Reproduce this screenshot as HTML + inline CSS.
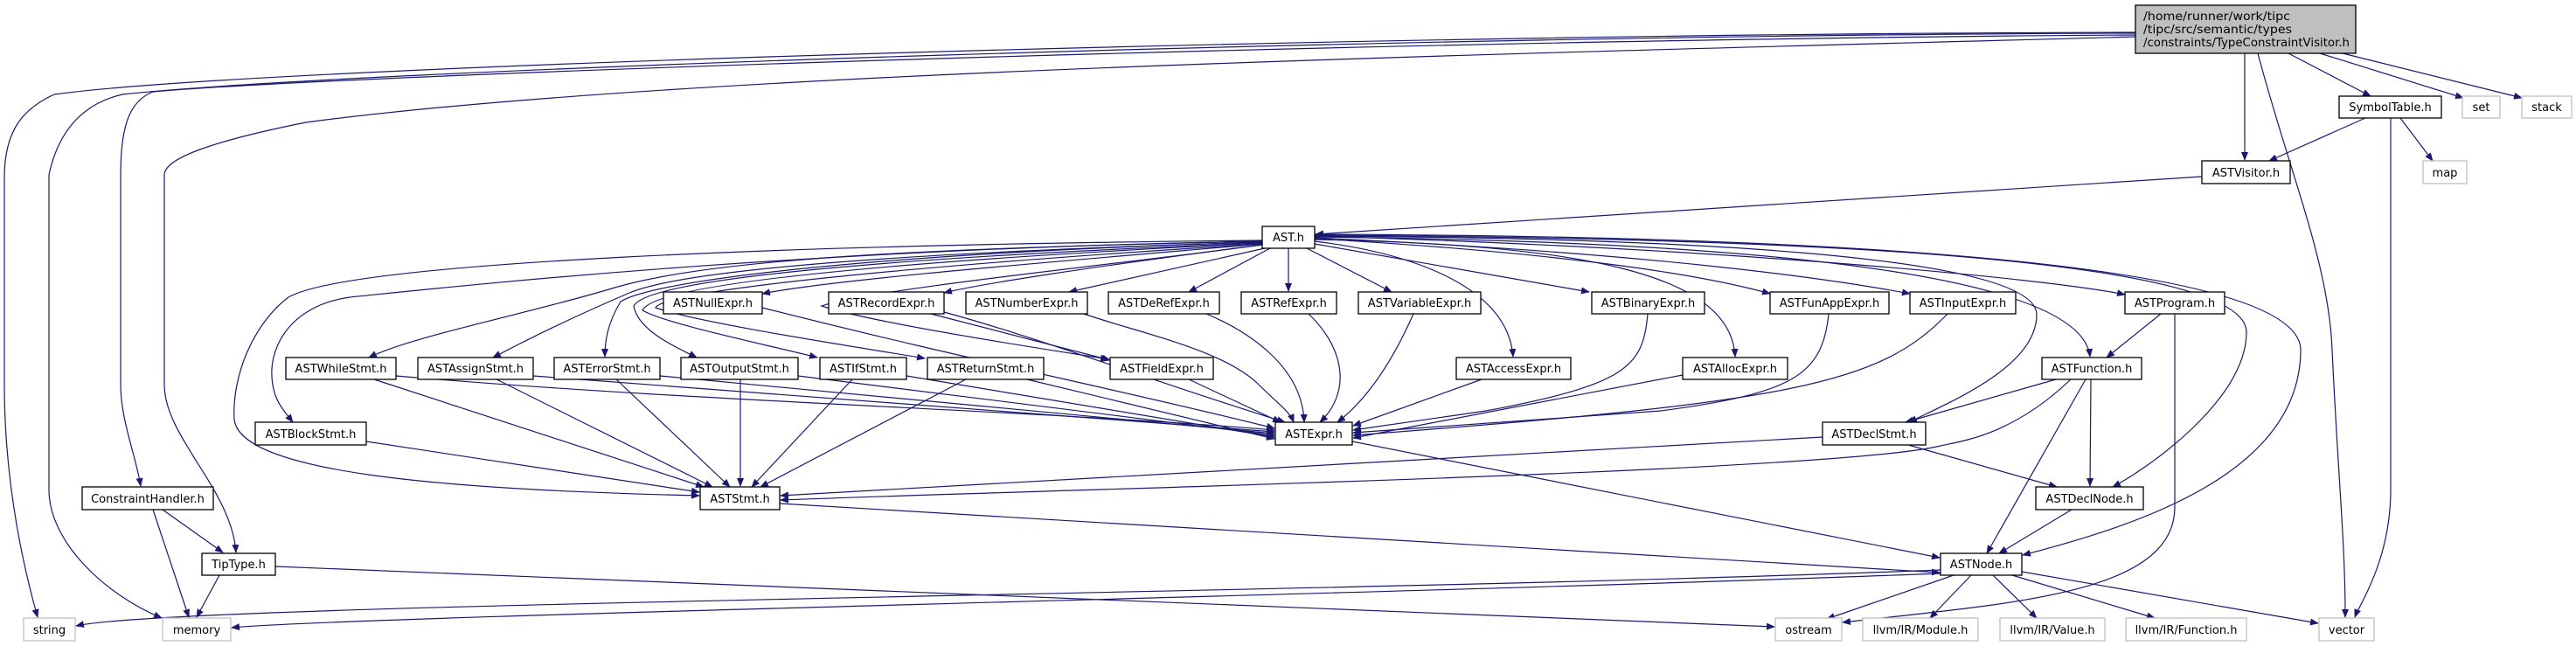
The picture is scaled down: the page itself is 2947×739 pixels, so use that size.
<!DOCTYPE html>
<html><head><meta charset="utf-8"><style>
html,body{margin:0;padding:0;background:#fff;}
svg{display:block;}
text{font-family:"DejaVu Sans","Liberation Sans",sans-serif;font-size:13px;fill:#000;}
.e{fill:none;stroke:#191970;stroke-width:1.2;marker-end:url(#a);}
.n{fill:#fff;stroke:#000;stroke-width:1.3;}
.g{fill:#fff;stroke:#bfbfbf;stroke-width:1.3;}
</style></head><body>
<svg width="2947" height="739" viewBox="0 0 2947 739" xmlns="http://www.w3.org/2000/svg">
<defs><marker id="a" markerWidth="10" markerHeight="8" refX="9" refY="4" orient="auto" markerUnits="userSpaceOnUse"><path d="M0,0 L10,4 L0,8z" fill="#191970"/></marker></defs>
<g>
<!-- top node edges -->
<path class="e" d="M2568,61 L2568,183"/>
<path class="e" d="M2618,61 L2712,110"/>
<path class="e" d="M2654,61 L2818,112"/>
<path class="e" d="M2680,61 L2885,112"/>
<path class="e" d="M2583,61 C2620,200 2664,300 2668,400 C2675,550 2683,620 2683,706"/>
<path class="e" d="M2443,37 C1600,38 300,75 62,108 C25,125 6,150 5,200 L5,440 C5,560 30,660 43,706"/>
<path class="e" d="M2443,38 C1600,40 400,80 140,108 C110,115 70,135 56,200 L56,560 C56,620 120,680 185,707"/>
<path class="e" d="M2443,40 C1600,45 400,85 175,105 C150,115 138,140 138,200 L138,440 C138,480 155,520 161,556"/>
<path class="e" d="M2443,42 C1800,60 800,80 350,140 C250,160 188,180 188,200 L188,440 C188,500 265,560 270,632"/>
<path class="e" d="M2706,135 L2596,184"/>
<path class="e" d="M2746,135 L2783,184"/>
<path class="e" d="M2735,135 L2735,560 C2735,640 2700,690 2694,706"/>
<path class="e" d="M2519,202 L1505,268"/>
<!-- AST.h out -->
<path class="e" d="M1444,279 C1200,300 950,320 872,336"/>
<path class="e" d="M1444,280 C1250,305 1120,325 1080,335"/>
<path class="e" d="M1447,284 L1223,334"/>
<path class="e" d="M1453,284 L1360,334"/>
<path class="e" d="M1474,284 L1474,333"/>
<path class="e" d="M1495,284 L1592,334"/>
<path class="e" d="M1504,279 L1818,334"/>
<path class="e" d="M1504,273 C1800,290 1950,315 2025,336"/>
<path class="e" d="M1504,272 C1900,290 2100,320 2185,336"/>
<path class="e" d="M1504,270 C2000,285 2350,320 2431,337"/>
<path class="e" d="M1504,276 C1620,290 1725,330 1731,408"/>
<path class="e" d="M1504,274 C1800,280 1980,310 1985,408"/>
<path class="e" d="M1504,271 C1900,275 2380,300 2391,408"/>
<path class="e" d="M1504,270 C1900,272 2330,290 2330,360 C2330,420 2230,460 2184,483"/>
<path class="e" d="M1504,269 C2000,272 2570,290 2570,380 C2570,460 2450,540 2417,557"/>
<path class="e" d="M1504,268 C2100,270 2630,300 2632,400 C2632,540 2450,600 2314,635"/>
<path class="e" d="M1444,275 C900,280 400,300 330,340 C290,370 265,430 268,480 C275,540 500,560 800,567"/>
<path class="e" d="M1444,276 C900,285 500,330 400,340 C330,350 305,400 312,440 C315,460 325,470 335,483"/>
<path class="e" d="M1444,276 C1000,285 800,300 700,330 C600,360 470,385 422,409"/>
<path class="e" d="M1444,277 C1000,290 780,310 720,335 C650,365 600,390 564,409"/>
<path class="e" d="M1444,277 C1000,290 750,320 710,345 C695,370 692,390 692,408"/>
<path class="e" d="M1444,278 C1000,295 740,320 725,350 C730,380 780,400 797,409"/>
<path class="e" d="M1444,278 C1100,295 750,320 735,355 C760,370 880,395 935,409"/>
<path class="e" d="M1444,279 C1100,300 760,330 750,352 C800,370 1000,400 1058,410"/>
<path class="e" d="M1444,280 C1300,300 1000,330 940,350 C1000,370 1200,400 1268,411"/>
<!-- row1 to ASTExpr -->
<path class="e" d="M872,352 C1100,410 1300,450 1458,490"/>
<path class="e" d="M1065,359 L1270,412"/>
<path class="e" d="M1080,357 C1200,390 1300,430 1470,483"/>
<path class="e" d="M1240,359 C1300,380 1400,400 1440,440 C1460,460 1475,470 1480,483"/>
<path class="e" d="M1380,359 C1430,380 1490,420 1492,483"/>
<path class="e" d="M1497,359 C1540,400 1545,450 1510,483"/>
<path class="e" d="M1617,359 C1590,420 1560,460 1530,483"/>
<path class="e" d="M1885,359 C1880,420 1860,440 1700,470 L1548,492"/>
<path class="e" d="M2092,359 C2085,430 2050,450 1900,470 L1548,495"/>
<path class="e" d="M2228,359 C2150,440 2050,460 1548,498"/>
<path class="e" d="M1695,434 L1548,487"/>
<path class="e" d="M1925,429 L1548,501"/>
<path class="e" d="M1360,434 L1465,483"/>
<!-- stmts -->
<path class="e" d="M453,430 C800,460 1200,470 1458,492"/>
<path class="e" d="M610,430 L1458,494"/>
<path class="e" d="M755,430 L1458,496"/>
<path class="e" d="M913,430 L1458,498"/>
<path class="e" d="M1037,430 L1458,500"/>
<path class="e" d="M1175,434 L1458,502"/>
<path class="e" d="M428,434 L805,557"/>
<path class="e" d="M568,434 L815,557"/>
<path class="e" d="M705,434 L835,557"/>
<path class="e" d="M847,434 L847,556"/>
<path class="e" d="M975,434 L860,557"/>
<path class="e" d="M1105,434 L870,557"/>
<path class="e" d="M419,505 L800,563"/>
<path class="e" d="M2085,500 L893,567"/>
<path class="e" d="M2369,434 C2300,500 2240,505 2220,510 C2100,540 1200,560 893,572"/>
<path class="e" d="M892,576 L2219,655"/>
<path class="e" d="M1547,505 L2219,638"/>
<path class="e" d="M2183,509 L2353,557"/>
<path class="e" d="M2392,434 L2391,556"/>
<path class="e" d="M2352,434 L2180,483"/>
<path class="e" d="M2386,434 L2273,633"/>
<path class="e" d="M2472,359 L2410,409"/>
<path class="e" d="M2370,583 L2287,633"/>
<path class="e" d="M2488,359 L2488,580 C2488,680 2300,690 2108,712"/>
<!-- ASTNode out -->
<path class="e" d="M2220,652 C1500,680 200,690 87,716"/>
<path class="e" d="M2220,656 C1600,680 400,705 265,718"/>
<path class="e" d="M2235,658 L2090,708"/>
<path class="e" d="M2255,658 L2208,707"/>
<path class="e" d="M2280,658 L2330,707"/>
<path class="e" d="M2302,658 L2465,707"/>
<path class="e" d="M2313,654 L2652,713"/>
<path class="e" d="M251,658 L225,706"/>
<path class="e" d="M315,648 L2030,717"/>
<path class="e" d="M186,583 L255,632"/>
<path class="e" d="M175,583 L216,706"/>
</g>
<g>
<rect x="2443" y="6" width="252" height="55" fill="#bfbfbf" stroke="#000" stroke-width="1.3"/>
<text x="2452" y="23" textLength="168" lengthAdjust="spacingAndGlyphs">/home/runner/work/tipc</text>
<text x="2452" y="38" textLength="170" lengthAdjust="spacingAndGlyphs">/tipc/src/semantic/types</text>
<text x="2452" y="53" textLength="236" lengthAdjust="spacingAndGlyphs">/constraints/TypeConstraintVisitor.h</text>
</g>
<g text-anchor="middle">
<rect class="n" x="2676" y="110" width="117" height="25"/><text x="2734.5" y="127">SymbolTable.h</text>
<rect class="g" x="2817" y="110" width="43" height="25"/><text x="2838.5" y="127">set</text>
<rect class="g" x="2885" y="110" width="57" height="25"/><text x="2913.5" y="127">stack</text>
<rect class="n" x="2519" y="184" width="101" height="26"/><text x="2569.5" y="202">ASTVisitor.h</text>
<rect class="g" x="2772" y="184" width="50" height="26"/><text x="2797" y="202">map</text>
<rect class="n" x="1444" y="259" width="60" height="25"/><text x="1474" y="276">AST.h</text>

<rect class="n" x="759" y="334" width="113" height="25"/><text x="815.5" y="351">ASTNullExpr.h</text>
<rect class="n" x="948" y="334" width="132" height="25"/><text x="1014" y="351">ASTRecordExpr.h</text>
<rect class="n" x="1105" y="334" width="139" height="25"/><text x="1174.5" y="351">ASTNumberExpr.h</text>
<rect class="n" x="1268" y="334" width="127" height="25"/><text x="1331.5" y="351">ASTDeRefExpr.h</text>
<rect class="n" x="1420" y="334" width="109" height="25"/><text x="1474.5" y="351">ASTRefExpr.h</text>
<rect class="n" x="1554" y="334" width="140" height="25"/><text x="1624" y="351">ASTVariableExpr.h</text>
<rect class="n" x="1821" y="334" width="129" height="25"/><text x="1885.5" y="351">ASTBinaryExpr.h</text>
<rect class="n" x="2025" y="334" width="136" height="25"/><text x="2093" y="351">ASTFunAppExpr.h</text>
<rect class="n" x="2185" y="334" width="121" height="25"/><text x="2245.5" y="351">ASTInputExpr.h</text>
<rect class="n" x="2431" y="334" width="114" height="25"/><text x="2488" y="351">ASTProgram.h</text>

<rect class="n" x="327" y="409" width="126" height="25"/><text x="390" y="426">ASTWhileStmt.h</text>
<rect class="n" x="478" y="409" width="132" height="25"/><text x="544" y="426">ASTAssignStmt.h</text>
<rect class="n" x="634" y="409" width="121" height="25"/><text x="694.5" y="426">ASTErrorStmt.h</text>
<rect class="n" x="779" y="409" width="134" height="25"/><text x="846" y="426">ASTOutputStmt.h</text>
<rect class="n" x="938" y="409" width="99" height="25"/><text x="987.5" y="426">ASTIfStmt.h</text>
<rect class="n" x="1061" y="409" width="133" height="25"/><text x="1127.5" y="426">ASTReturnStmt.h</text>
<rect class="n" x="1270" y="409" width="118" height="25"/><text x="1329" y="426">ASTFieldExpr.h</text>
<rect class="n" x="1666" y="409" width="131" height="25"/><text x="1731.5" y="426">ASTAccessExpr.h</text>
<rect class="n" x="1925" y="409" width="120" height="25"/><text x="1985" y="426">ASTAllocExpr.h</text>
<rect class="n" x="2336" y="409" width="114" height="25"/><text x="2393" y="426">ASTFunction.h</text>

<rect class="n" x="292" y="483" width="127" height="26"/><text x="355.5" y="501">ASTBlockStmt.h</text>
<rect class="n" x="1459" y="483" width="88" height="26"/><text x="1503" y="501">ASTExpr.h</text>
<rect class="n" x="2085" y="483" width="118" height="26"/><text x="2144" y="501">ASTDeclStmt.h</text>

<rect class="n" x="94" y="557" width="150" height="26"/><text x="169" y="575">ConstraintHandler.h</text>
<rect class="n" x="801" y="557" width="91" height="26"/><text x="846.5" y="575">ASTStmt.h</text>
<rect class="n" x="2329" y="557" width="123" height="26"/><text x="2390.5" y="575">ASTDeclNode.h</text>

<rect class="n" x="231" y="633" width="84" height="25"/><text x="273" y="650">TipType.h</text>
<rect class="n" x="2220" y="633" width="93" height="25"/><text x="2266.5" y="650">ASTNode.h</text>

<rect class="g" x="27" y="707" width="59" height="26"/><text x="56.5" y="725">string</text>
<rect class="g" x="186" y="707" width="78" height="26"/><text x="225" y="725">memory</text>
<rect class="g" x="2031" y="707" width="76" height="26"/><text x="2069" y="725">ostream</text>
<rect class="g" x="2131" y="707" width="132" height="26"/><text x="2197" y="725">llvm/IR/Module.h</text>
<rect class="g" x="2288" y="707" width="120" height="26"/><text x="2348" y="725">llvm/IR/Value.h</text>
<rect class="g" x="2432" y="707" width="138" height="26"/><text x="2501" y="725">llvm/IR/Function.h</text>
<rect class="g" x="2653" y="707" width="63" height="26"/><text x="2684.5" y="725">vector</text>
</g>
</svg>
</body></html>
